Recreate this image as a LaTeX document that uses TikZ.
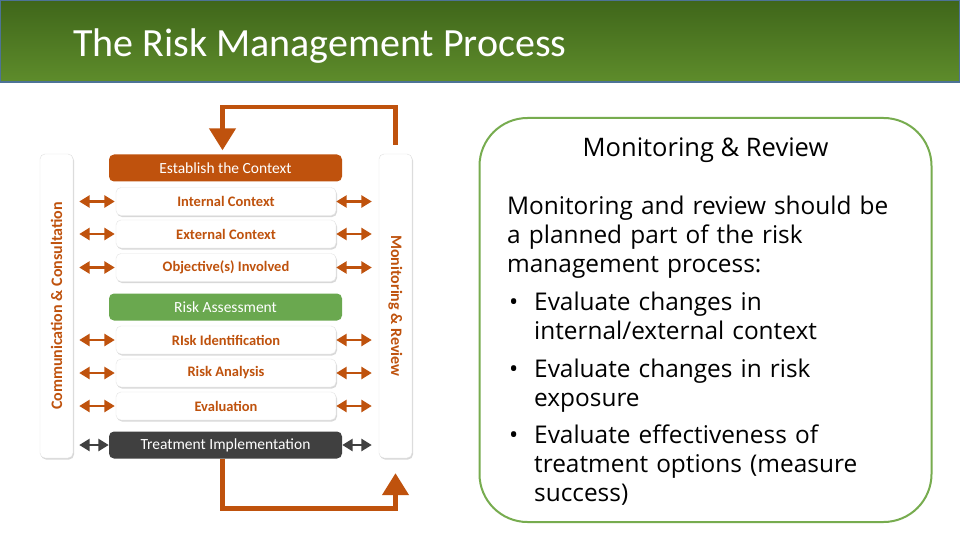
\documentclass[tikz,border=0pt]{standalone}
\usepackage{fontspec}
\setmainfont{Carlito}
\newfontfamily\panelfont{Open Sans}
\usepackage{tikz}
\usetikzlibrary{arrows.meta,positioning,shadows}
\definecolor{rmorange}{HTML}{BF520D}
\definecolor{rmgreen}{HTML}{6AA84F}
\definecolor{rmdark}{HTML}{404040}
\definecolor{hdtop}{HTML}{3F661A}
\definecolor{hdbot}{HTML}{5E8C2B}
\definecolor{hdline}{HTML}{4D7396}
\definecolor{panelline}{HTML}{77AC4F}

\begin{document}
\begin{tikzpicture}[x=1pt,y=-1pt,
  sidebar/.style={draw=black!12,fill=white,rounded corners=5pt,minimum width=33pt,minimum height=304pt,
    drop shadow={opacity=0.3,shadow xshift=1pt,shadow yshift=-1.5pt}},
  sidetext/.style={text=rmorange,font=\fontsize{16}{16}\selectfont\bfseries},
  headbox/.style={rounded corners=5pt,minimum width=233pt,minimum height=27pt,inner sep=0pt,
    text=white,font=\fontsize{15.5}{16}\selectfont},
  stepbox/.style={draw=black!10,fill=white,rounded corners=5pt,minimum width=220pt,minimum height=28pt,inner sep=0pt,
    text=rmorange,font=\fontsize{14.5}{15}\selectfont\bfseries,
    drop shadow={opacity=0.3,shadow xshift=1pt,shadow yshift=-1.5pt}},
  dblarrow/.style={rmorange,line width=2.8pt,{Triangle[width=12pt,length=10.5pt]}-{Triangle[width=12pt,length=10.5pt]}},
  looparrow/.style={rmorange,line width=4.5pt,-{Triangle[width=26pt,length=22pt]}},
  paneltext/.style={anchor=base west,inner sep=0pt,text width=420pt,align=left,
    font=\panelfont\fontsize{24.4}{29}\selectfont}]
\useasboundingbox (0,0) rectangle (960,540);
\fill[white] (0,0) rectangle (960,540);
%% title band
\shade[top color=hdtop,bottom color=hdbot] (0,0) rectangle (960,82);
\draw[hdline,line width=1.5pt] (0,0.75) rectangle (960,82);
\node[anchor=base west,inner sep=0pt,text=white,font=\fontsize{40}{40}\selectfont] (title) at (73,57) {The Risk Management Process};
%% side bars
\node[sidebar] (comm) at (56.5,306) {};
\node[sidetext,rotate=90] (commtext) at (comm) {Communication \& Consultation};
\node[sidebar] (mon) at (395.5,306) {};
\node[sidetext,rotate=-90] (montext) at (mon) {Monitoring \& Review};
%% process boxes
\node[headbox,fill=rmorange] (ec) at (225.5,168) {Establish the Context};
\node[headbox,fill=rmgreen] (ra) at (225.5,307) {Risk Assessment};
\node[headbox,fill=rmdark] (ti) at (225.5,445) {Treatment Implementation};
\foreach \nm/\yy/\txt in {ic/201.5/Internal Context,xc/234/External Context,oc/267.5/Objective(s) Involved,
    ri/340/RIsk Identification,an/373/Risk Analysis,ev/406/Evaluation}{
  \node[stepbox] (\nm) at (226,\yy) {\txt};
  \draw[dblarrow] ([xshift=6pt]\nm.west -| comm.east) -- ([xshift=-1pt]\nm.west);
  \draw[dblarrow] ([xshift=0pt]\nm.east) -- ([xshift=-7pt]\nm.east -| mon.west);
}
\draw[dblarrow,rmdark] ([xshift=6pt]ti.west -| comm.east) -- (ti.west);
\draw[dblarrow,rmdark] (ti.east) -- ([xshift=-7pt]ti.east -| mon.west);
%% feedback loops
\draw[looparrow] ([yshift=9pt]mon.north) -- ++(0,-38) -| ([xshift=-3pt,yshift=4pt]ec.north);
\draw[looparrow] ([xshift=-3pt]ti.south) -- ++(0,50) -| ([yshift=-15pt]mon.south);
%% monitoring panel
\node[draw=panelline,line width=2pt,rounded corners=48pt,minimum width=452pt,minimum height=404pt] (panel) at (705.5,320) {};
\node[anchor=base,inner sep=0pt,font=\panelfont\fontsize{25.5}{29}\selectfont] (ptitle) at (705.5,157) {Monitoring \& Review};
\node[paneltext] (intro) at (507,214) {Monitoring and review should be\\a planned part of the risk\\management process:};
\node[paneltext,text width=20pt] (dot1) at (509,310) {•};
\node[paneltext,text width=390pt] (item1) at (534,310) {Evaluate changes in\\internal/external context};
\node[paneltext,text width=20pt] (dot2) at (509,377) {•};
\node[paneltext,text width=390pt] (item2) at (534,377) {Evaluate changes in risk\\exposure};
\node[paneltext,text width=20pt] (dot3) at (509,443) {•};
\node[paneltext,text width=390pt] (item3) at (534,443) {Evaluate effectiveness of\\treatment options (measure\\success)};
\end{tikzpicture}
\end{document}
